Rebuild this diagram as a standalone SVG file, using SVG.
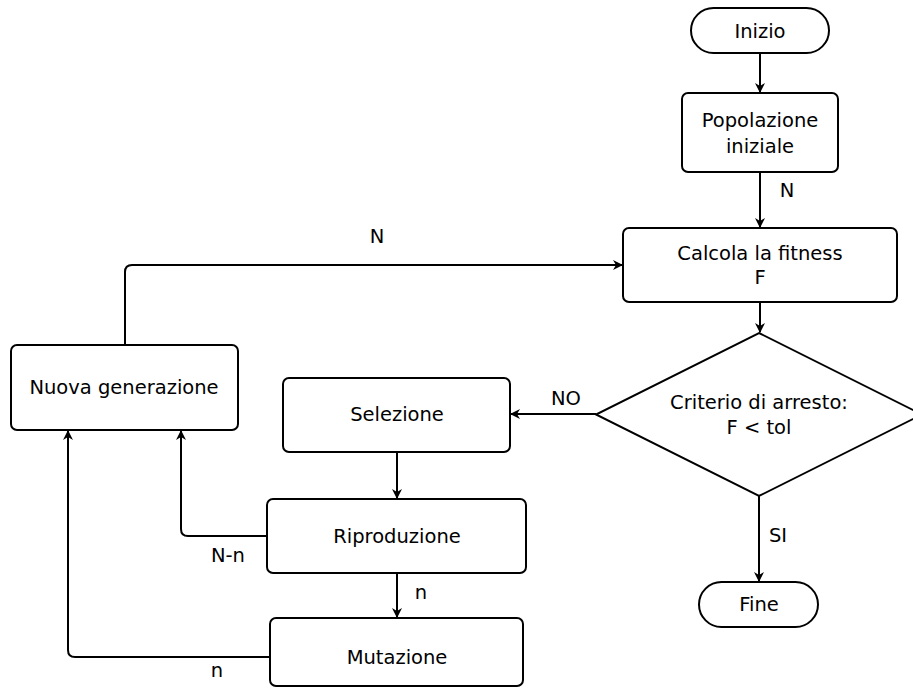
<svg xmlns="http://www.w3.org/2000/svg" width="913" height="688" viewBox="0 0 913 688">
<style>
.n{fill:#fff;stroke:#000;stroke-width:2}
.c{fill:none;stroke:#000;stroke-width:2}
text{font-family:"DejaVu Sans",sans-serif;font-size:19.5px;fill:#000;text-anchor:middle}
</style>
<defs>
<marker id="a" viewBox="0 0 10 10" refX="9" refY="5" markerWidth="5" markerHeight="5" orient="auto" markerUnits="strokeWidth">
<path d="M0,0 L10,5 L0,10 L3,5 Z" fill="#000"/>
</marker>
</defs>
<rect width="913" height="688" fill="#fff"/>
<g id="connectors">
<path class="c" d="M760,53 V92" marker-end="url(#a)"/>
<path class="c" d="M760,172 V227" marker-end="url(#a)"/>
<path class="c" d="M760,302 V332" marker-end="url(#a)"/>
<path class="c" d="M596,414 H511" marker-end="url(#a)"/>
<path class="c" d="M759,496 V581" marker-end="url(#a)"/>
<path class="c" d="M125,345 V272 Q125,265 132,265 H622" marker-end="url(#a)"/>
<path class="c" d="M397,452 V498" marker-end="url(#a)"/>
<path class="c" d="M267,536 H188 Q181,536 181,529 V431" marker-end="url(#a)"/>
<path class="c" d="M397,573 V617" marker-end="url(#a)"/>
<path class="c" d="M270,657 H75 Q68,657 68,650 V431" marker-end="url(#a)"/>
<text x="377" y="243">N</text>
<text x="787" y="197">N</text>
<text x="566" y="405">NO</text>
<text x="778" y="542">SI</text>
<text x="421" y="599">n</text>
<text x="228" y="562">N-n</text>
<text x="217" y="677">n</text>
</g>
<g id="inizio">
<rect class="n" x="691" y="8" width="138" height="45" rx="22.5"/>
<text x="760" y="38">Inizio</text>
</g>
<g id="popolazione">
<rect class="n" x="682" y="93" width="156" height="79" rx="6"/>
<text x="760" y="127">Popolazione</text>
<text x="760" y="153">iniziale</text>
</g>
<g id="calcola">
<rect class="n" x="623" y="228" width="274" height="74" rx="6"/>
<text x="760" y="260">Calcola la fitness</text>
<text x="760" y="284">F</text>
</g>
<g id="criterio">
<polygon class="n" points="759,333 922,414.5 759,496 596,414.5"/>
<text x="759" y="409">Criterio di arresto:</text>
<text x="759" y="434">F &lt; tol</text>
</g>
<g id="fine">
<rect class="n" x="699" y="582" width="119" height="45" rx="22.5"/>
<text x="759" y="611">Fine</text>
</g>
<g id="nuova">
<rect class="n" x="11" y="345" width="227" height="85" rx="6"/>
<text x="124" y="394">Nuova generazione</text>
</g>
<g id="selezione">
<rect class="n" x="283" y="378" width="227" height="74" rx="6"/>
<text x="397" y="421">Selezione</text>
</g>
<g id="riproduzione">
<rect class="n" x="267" y="499" width="259" height="74" rx="6"/>
<text x="397" y="543">Riproduzione</text>
</g>
<g id="mutazione">
<rect class="n" x="270" y="618" width="253" height="68" rx="6"/>
<text x="397" y="664">Mutazione</text>
</g>
</svg>
